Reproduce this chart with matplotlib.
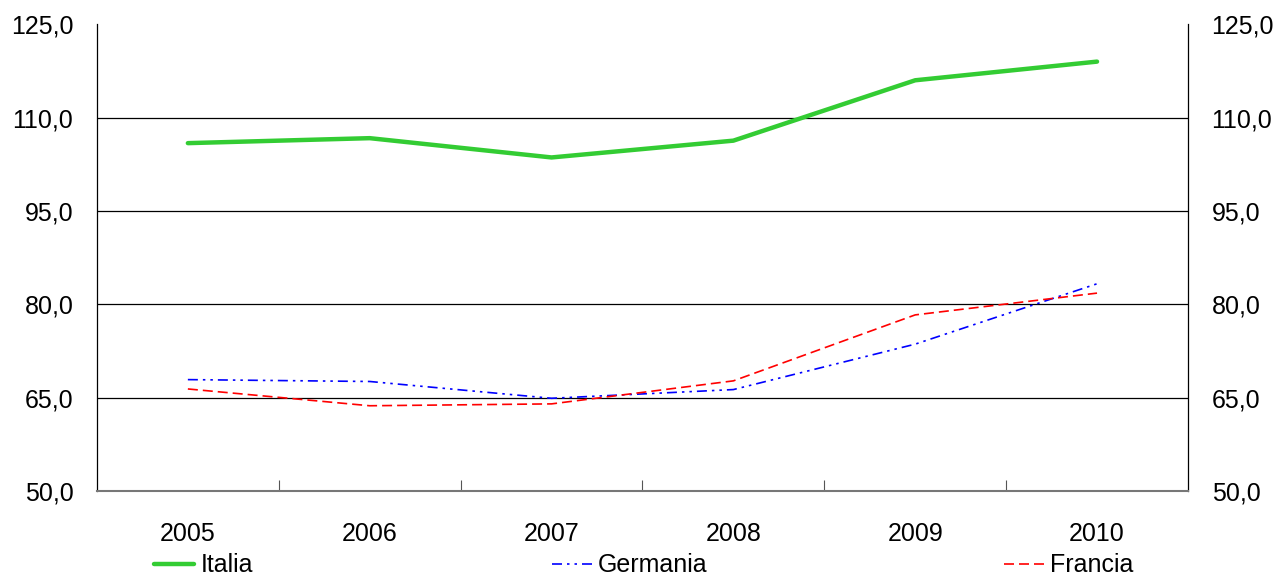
import matplotlib.pyplot as plt
from matplotlib.ticker import FixedLocator, FuncFormatter

anni = ['2005', '2006', '2007', '2008', '2009', '2010']
italia = [105.9, 106.7, 103.6, 106.3, 116.0, 119.0]
germania = [67.9, 67.6, 64.9, 66.3, 73.6, 83.3]
francia = [66.4, 63.7, 64.0, 67.7, 78.3, 81.8]
y_ticks = [50, 65, 80, 95, 110, 125]

plt.rcParams['font.family'] = ['Liberation Sans', 'DejaVu Sans']
plt.rcParams['font.size'] = 18

fig = plt.figure(figsize=(12.79, 5.78), dpi=100)
ax = fig.add_axes([0.0758, 0.1505, 0.853, 0.8075])

x = list(range(len(anni)))
l1, = ax.plot(x, italia, color='#33cc33', lw=3.2, solid_capstyle='round', label='Italia', zorder=4)
l2, = ax.plot(x, germania, color='#0000ff', lw=1.2, dashes=(6, 3, 1.5, 3, 1.5, 3), label='Germania', zorder=3)
l3, = ax.plot(x, francia, color='#ff0000', lw=1.2, dashes=(6, 3), label='Francia', zorder=3)

# grid lines at the intermediate values
for v in y_ticks[1:-1]:
    ax.axhline(v, color='black', lw=0.9, zorder=1)

ax.set_xlim(-0.5, len(anni) - 0.5)
ax.set_ylim(50, 125)
ax.set_xticks(x)
ax.set_xticklabels(anni)
ax.xaxis.set_minor_locator(FixedLocator([i + 0.5 for i in range(len(anni) - 1)]))
ax.tick_params(axis='x', which='major', length=0, pad=22)
ax.tick_params(axis='x', which='minor', direction='in', length=8, width=0.8, color='#555555')

ax.set_yticks(y_ticks)
ax.yaxis.set_major_formatter(FuncFormatter(lambda v, p: f'{v:.1f}'.replace('.', ',')))
ax.tick_params(axis='y', length=0, pad=17, labelright=True, right=False)

ax.spines['top'].set_visible(False)
ax.spines['bottom'].set_color('#777777')
ax.spines['bottom'].set_linewidth(1.5)
ax.spines['left'].set_linewidth(0.9)
ax.spines['right'].set_linewidth(0.9)

# legend entries spread across the bottom
for h, xpos in [(l1, 0.1205), (l2, 0.4315), (l3, 0.785)]:
    fig.legend(handles=[h], loc='center left', bbox_to_anchor=(xpos, 0.022),
               frameon=False, handlelength=1.6, handletextpad=0.25, borderpad=0,
               borderaxespad=0, fontsize=18)

fig.savefig('out.png', dpi=100)
